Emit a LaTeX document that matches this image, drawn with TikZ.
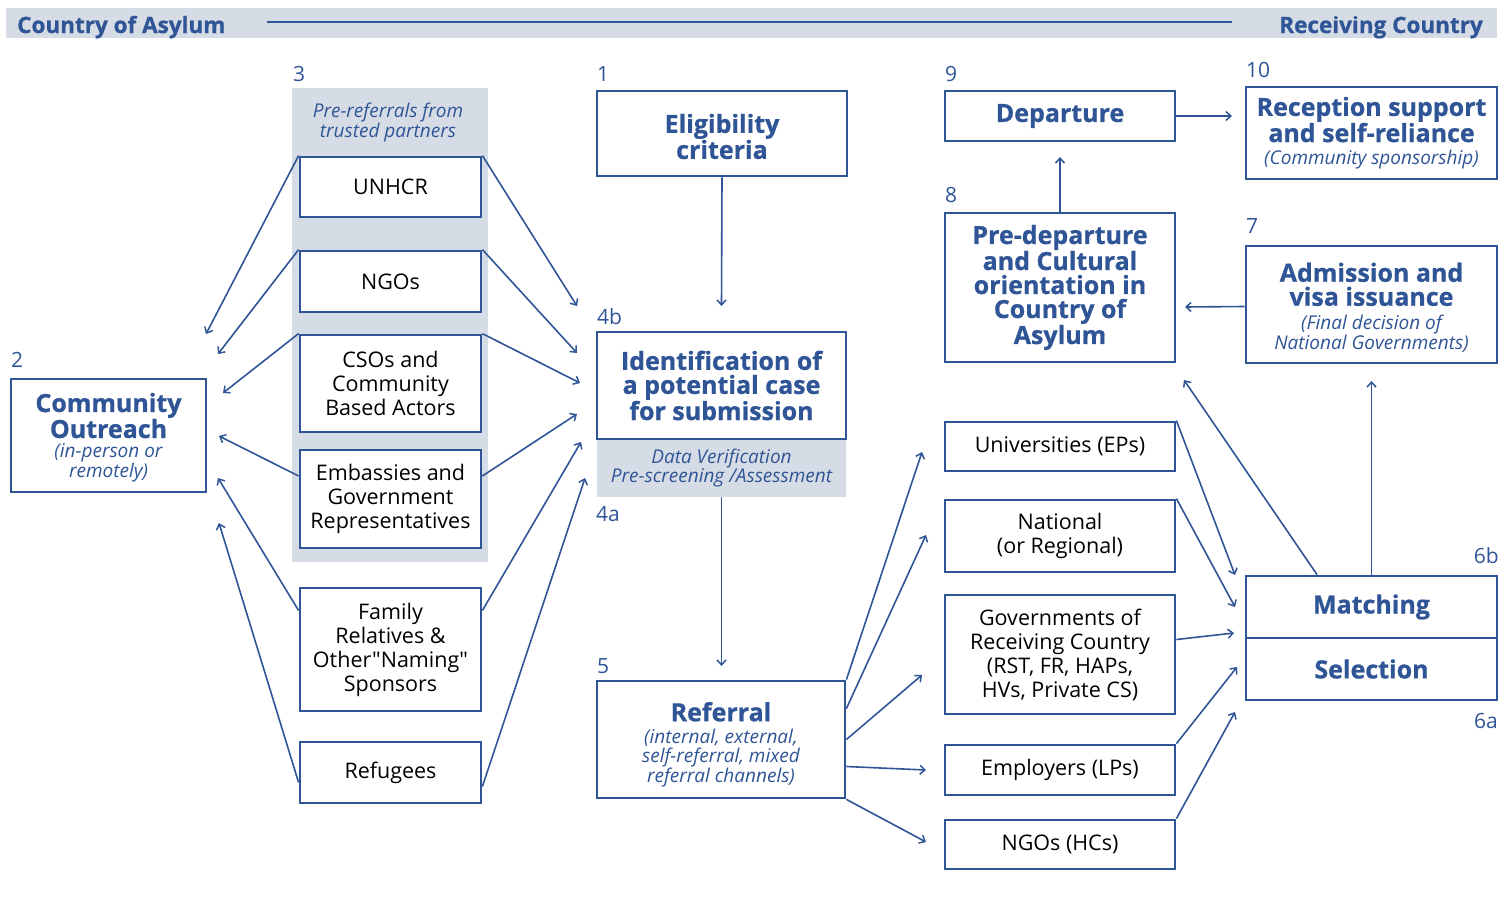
\documentclass[tikz,border=0pt]{standalone}
\usepackage{fontspec}
\setmainfont{Open Sans}[Ligatures=TeXOff, BoldFeatures={FakeBold=0.8}]
\usetikzlibrary{arrows.meta}
\definecolor{navy}{HTML}{2F5597}
\definecolor{paleblue}{HTML}{D6DCE5}
\newcommand\fttl{\bfseries\fontsize{25}{24}\selectfont}
\newcommand\fsub{\itshape\fontsize{19}{18.5}\selectfont}
\newcommand\fblk{\fontsize{21.5}{24}\selectfont}
\newcommand\fnum{\fontsize{21}{24}\selectfont}
\newcommand\mpbox[2]{\begin{minipage}{#1pt}\centering #2\end{minipage}}
\newcommand\bx[7][]{\node[box,minimum width={#5-#3},minimum height={#6-#4},#1] (#2) at ({(#3+#5)/2},{(#4+#6)/2}) {#7};}
\tikzset{
  box/.style={draw=navy, line width=2.8pt, fill=white, inner sep=0pt},
  blk/.style={font=\fblk, align=center, text=black},
  ttl/.style={font=\fttl, align=center, text=navy},
  mix/.style={text=navy},
  conn/.style={draw=navy, line width=1.6pt, -{Straight Barb[length=5pt,width=9pt,line width=1.5pt]}},
  plain/.style={draw=navy, line width=1.8pt},
  num/.style={text=navy, font=\fnum, anchor=base west, inner sep=0pt},
  numr/.style={text=navy, font=\fnum, anchor=base east, inner sep=0pt},
  hdr/.style={text=navy, font=\bfseries\fontsize{22.5}{24}\selectfont, inner sep=0pt},
  pale/.style={fill=paleblue, inner sep=0pt, draw=none},
}
\begin{document}
\begin{tikzpicture}[x=1pt,y=-1pt]
\useasboundingbox (0,0) rectangle (1500,905);
% header
\node[pale, minimum width=1491, minimum height=30] (band) at (751.5,23) {};
\node[hdr, anchor=base west] (hl) at (17,33) {Country of Asylum};
\node[hdr, anchor=base east] (hr) at (1483,33) {Receiving Country};
\coordinate (la) at (267,22);
\coordinate (lb) at (1232,22);
\draw[plain] (la) -- (lb);

% group 3 background
\node[pale, minimum width=196, minimum height=474] (grp) at (390,325) {};
\node[text=navy, font=\fsub, align=center, inner sep=0pt] (grpt) at (388,123) {Pre-referrals from\\trusted partners};

% partner boxes
\bx[blk]{unhcr}{300}{157}{481}{217}{UNHCR}
\bx[blk]{ngo}{300}{251}{481}{312}{NGOs}
\bx[blk]{cso}{300}{335}{481}{432}{CSOs and\\Community\\Based Actors}
\bx[blk]{emb}{300}{450}{481}{548}{Embassies and\\Government\\Representatives}
\bx[blk]{fam}{300}{588}{481}{711}{Family\\Relatives \&\\Other"Naming"\\Sponsors}
\bx[blk]{refg}{300}{742}{481}{803}{Refugees}

% community outreach
\bx[mix]{co}{11}{379}{206}{492}{\mpbox{190}{\vspace{4pt}{\fttl Community\\Outreach\par}\vspace{1pt}{\fsub (in-person or\\remotely)\par}}}

% central column
\node[pale, minimum width=249, minimum height=58, text=navy, font=\fsub, align=center] (ida) at (721.5,468) {Data Verification\\Pre-screening /Assessment};
\bx[mix]{elig}{597}{91}{847}{176}{\mpbox{245}{\vspace{6pt}{\fttl Eligibility\\criteria\par}}}
\bx[ttl]{ident}{597}{332}{846}{439}{Identification of\\a potential case\\for submission}
\bx[mix]{refl}{597}{681}{845}{798}{\mpbox{240}{\vspace{10pt}{\fttl Referral\par}\vspace{4pt}{\fsub (internal, external,\\self-referral, mixed\\referral channels)\par}}}

% right columns
\bx[ttl]{dep}{945}{91}{1175}{141}{Departure}
\bx[mix]{recp}{1246}{87}{1497}{179}{\mpbox{248}{{\fttl Reception support\\and self-reliance\par}\vspace{4pt}{\fsub (Community sponsorship)\par}}}
\bx[ttl]{pre}{945}{213}{1175}{362}{Pre-departure\\and Cultural\\orientation in\\Country of\\Asylum}
\bx[mix]{adm}{1246}{246}{1497}{363}{\mpbox{245}{\vspace{6pt}{\fttl Admission and\\visa issuance\par}\vspace{5pt}{\fsub (Final decision of\\National Governments)\par}}}
\bx[blk]{univ}{945}{422}{1175}{471}{Universities (EPs)}
\bx[blk]{nat}{945}{500}{1175}{572}{National\\(or Regional)}
\bx[blk]{gov}{945}{595}{1175}{714}{Governments of\\Receiving Country\\(RST, FR, HAPs,\\HVs, Private CS)}
\bx[blk]{emp}{945}{745}{1175}{795}{Employers (LPs)}
\bx[blk]{ngohc}{945}{820}{1175}{869}{NGOs (HCs)}
\bx[ttl]{match}{1246}{576}{1497}{638}{Matching}
\bx[ttl]{sel}{1246}{638}{1497}{700}{Selection}

% step numbers
\node[num] (n3) at (293,81) {3};
\node[num] (n1) at (597,81) {1};
\node[num] (n4b) at (597,324) {4b};
\node[num] (n4a) at (596,521) {4a};
\node[num] (n5) at (597,673) {5};
\node[num] (n2) at (11,367) {2};
\node[num] (n9) at (945,81) {9};
\node[num] (n8) at (945,202) {8};
\node[num] (n10) at (1246,77) {10};
\node[num] (n7) at (1246,233) {7};
\node[numr] (n6b) at (1499,563) {6b};
\node[numr] (n6a) at (1498,728) {6a};

% free arrow ends
\coordinate (l1) at (206,334);
\coordinate (l2) at (218,354);
\coordinate (l3) at (223,393);
\coordinate (l4) at (219,436);
\coordinate (l5) at (218,478);
\coordinate (l6) at (219,523);
\coordinate (r1) at (577,306);
\coordinate (r2) at (577,353);
\coordinate (r3) at (580,383);
\coordinate (r4) at (577,414);
\coordinate (r5) at (581,442);
\coordinate (r6) at (585,478);
\coordinate (e1) at (721.5,306);
\coordinate (e2) at (721.5,666);
\coordinate (q1) at (922,452);
\coordinate (q2) at (926,535);
\coordinate (q3) at (922,675);
\coordinate (q4) at (926,770);
\coordinate (q5) at (926,842);
\coordinate (s1) at (1235,575);
\coordinate (s2) at (1235,607);
\coordinate (s3) at (1234,633);
\coordinate (s4) at (1237,667);
\coordinate (s5) at (1235,712);
\coordinate (m1) at (1371.5,381);
\coordinate (m2) at (1184,380);
\coordinate (a1) at (1185,307);
\coordinate (p1) at (1060,157);
\coordinate (d1) at (1232,116);

% partners -> community outreach
\draw[conn] (unhcr.north west) -- (l1);
\draw[conn] (ngo.north west) -- (l2);
\draw[conn] (cso.north west) -- (l3);
\draw[conn] ([yshift=23pt]emb.west) -- (l4);
\draw[conn] ([yshift=39pt]fam.west) -- (l5);
\draw[conn] ([yshift=-10pt]refg.west) -- (l6);
% partners -> identification
\draw[conn] (unhcr.north east) -- (r1);
\draw[conn] (ngo.north east) -- (r2);
\draw[conn] (cso.north east) -- (r3);
\draw[conn] ([yshift=23pt]emb.east) -- (r4);
\draw[conn] ([yshift=39pt]fam.east) -- (r5);
\draw[conn] ([yshift=-14pt]refg.east) -- (r6);
% central column
\draw[conn] (elig.south) -- (e1);
\draw[conn] (ida.south) -- (e2);
% referral -> actors
\draw[conn] (refl.north east) -- (q1);
\draw[conn] ([yshift=31pt]refl.east) -- (q2);
\draw[conn] (refl.east) -- (q3);
\draw[conn] ([yshift=-27pt]refl.east) -- (q4);
\draw[conn] (refl.south east) -- (q5);
% actors -> matching
\draw[conn] (univ.north east) -- (s1);
\draw[conn] (nat.north east) -- (s2);
\draw[conn] ([yshift=15pt]gov.east) -- (s3);
\draw[conn] (emp.north east) -- (s4);
\draw[conn] (ngohc.north east) -- (s5);
% matching up
\draw[conn] (match.north) -- (m1);
\draw[conn] ([xshift=-54.5pt]match.north) -- (m2);
\draw[conn] ([yshift=-2pt]adm.west) -- (a1);
\draw[conn] (pre.north) -- (p1);
\draw[conn] (dep.east) -- (d1);
\end{tikzpicture}
\end{document}
